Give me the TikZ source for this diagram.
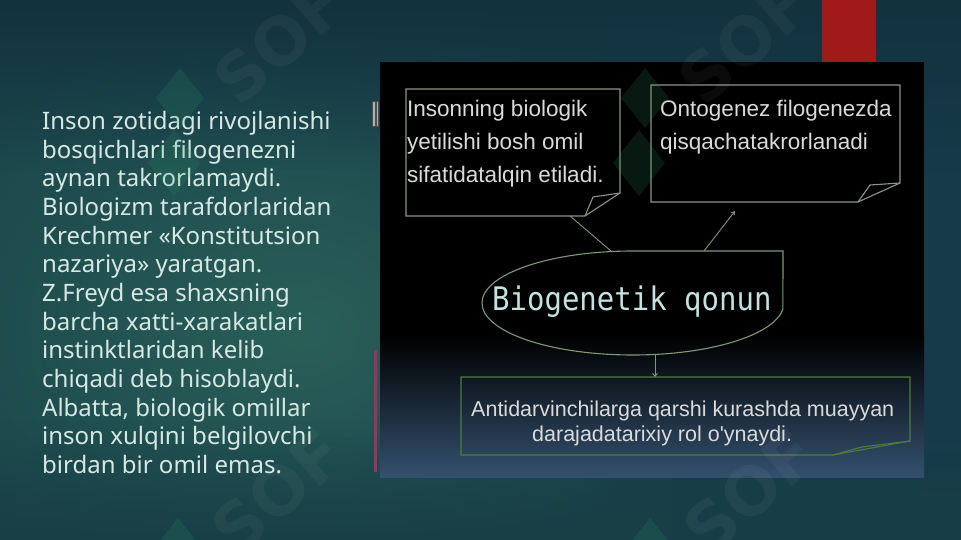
\documentclass[tikz,border=0pt]{standalone}
\usepackage{fontspec}
\setmainfont{Noto Sans}
\newfontfamily\panelfont{Liberation Sans}
\newfontfamily\titlefont{DejaVu Sans Mono}
\newfontfamily\wmfont{DejaVu Sans}
\usetikzlibrary{fadings,arrows.meta}
\definecolor{bgleft}{HTML}{1B464B}
\definecolor{bgright}{HTML}{163A4A}
\definecolor{bgmid}{HTML}{2A5F58}
\definecolor{bgtop}{HTML}{12323E}
\definecolor{bgbot}{HTML}{183F46}
\definecolor{barred}{HTML}{A01A1A}
\definecolor{sidered}{HTML}{A0305E}
\definecolor{panelbot}{HTML}{34506E}
\definecolor{boxgray}{HTML}{8C968A}
\definecolor{ellgreen}{HTML}{7E9A78}
\definecolor{boxgreen}{HTML}{4F7C3E}
\definecolor{paneltext}{HTML}{DADADA}
\definecolor{titletext}{HTML}{C4E2E0}
\definecolor{lefttext}{HTML}{D6E8E4}
\definecolor{wmgreen}{HTML}{2A9A6A}
\tikzfading[name=fadetop, top color=transparent!0, bottom color=transparent!100]
\tikzfading[name=fadebot, top color=transparent!100, bottom color=transparent!0]
\tikzfading[name=softcircle, inner color=transparent!0, outer color=transparent!100]
\tikzset{
  lefttxt/.style={anchor=north west, inner sep=0pt, align=left, text=lefttext,
    font=\fontsize{24}{28.67}\selectfont},
  paneltxt/.style={anchor=base west, inner sep=0pt, text=paneltext,
    font=\panelfont\fontsize{22.5}{27}\selectfont},
  paneltxtb/.style={anchor=base west, inner sep=0pt, text=paneltext,
    font=\panelfont\fontsize{21.5}{26}\selectfont},
  titletxt/.style={anchor=base west, inner sep=0pt, text=titletext,
    font=\titlefont\fontsize{29}{33}\selectfont},
  panelline/.style={line width=1.1pt},
  conn/.style={line width=0.9pt, color=ellgreen},
  wmtxt/.style={font=\wmfont\bfseries\fontsize{66}{66}\selectfont, text=white, opacity=0.045, inner sep=0pt},
  wmlogo/.style={fill=wmgreen, opacity=0.17},
}
\newcommand{\wmunit}[2]{%
  \begin{scope}[shift={(#1,#2)}]
    \fill[wmlogo] (0,0) -- (24,30) -- (0,60) -- (-24,30) -- cycle;
    \fill[wmlogo] (-6,62) -- (20,95) -- (-6,128) -- (-32,95) -- cycle;
    \node[wmtxt, rotate=41] (wm#1) at (100,-26) {SOF};
  \end{scope}}
\begin{document}
\begin{tikzpicture}[x=1pt,y=-1pt]
\useasboundingbox (0,0) rectangle (961,540);
% background
\shade[left color=bgleft, right color=bgright] (0,0) rectangle (961,540);
\fill[bgmid, path fading=softcircle] (300,330) ellipse [x radius=420, y radius=330];
\fill[bgtop, path fading=fadetop] (0,0) rectangle (961,170);
\fill[bgbot, path fading=fadebot] (0,420) rectangle (961,540);
% red bar
\fill[barred] (822,0) rectangle (876,62);
% panel
\fill[black] (380,62) rectangle (924,336);
\shade[top color=black, bottom color=panelbot] (380,335) rectangle (924,477);
% side marks
\fill[sidered] (373.8,350) rectangle (376.6,472);
\draw[black!70, fill=gray!60, line width=0.5pt] (372.5,101) rectangle (374.8,126);
\draw[black!70, fill=gray!60, line width=0.5pt] (376.3,101) rectangle (378.6,126);
% left text
\node[lefttxt] (lefttext) at (42,111) {Inson zotidagi rivojlanishi\\
bosqichlari filogenezni\\
aynan takrorlamaydi.\\
Biologizm tarafdorlaridan\\
Krechmer «Konstitutsion\\
nazariya» yaratgan.\\
Z.Freyd esa shaxsning\\
barcha xatti-xarakatlari\\
instinktlaridan kelib\\
chiqadi deb hisoblaydi.\\
Albatta, biologik omillar\\
inson xulqini belgilovchi\\
birdan bir omil emas.};
% box 1
\draw[boxgray, panelline] (406,216) -- (406,89) -- (620,89) -- (620,193) -- (585,216) -- cycle;
\draw[boxgray, panelline] (585,216) -- (593,197) -- (620,193);
\node[paneltxt] (t1a) at (407,116.7) {Insonning biologik};
\node[paneltxt] (t1b) at (407,150) {yetilishi bosh omil};
\node[paneltxt] (t1c) at (407,183) {sifatidatalqin etiladi.};
% box 2
\draw[boxgray, panelline] (651,202) -- (651,85) -- (900,85) -- (900,183) -- (858,202) -- cycle;
\draw[boxgray, panelline] (858,202) -- (870,185) -- (900,183);
\node[paneltxt] (t2a) at (660,116.7) {Ontogenez filogenezda};
\node[paneltxt] (t2b) at (660,150) {qisqachatakrorlanadi};
% central shape
\draw[ellgreen, panelline] (783,251) -- (633,251)
  arc[start angle=270, end angle=7, x radius=151, y radius=52] -- cycle;
\node[titletxt] (title) at (492,310) {\scalebox{1}[1.12]{Biogenetik qonun}};
% bottom box
\draw[boxgreen, panelline] (461,455) -- (461,377) -- (910,377) -- (910,441) -- (833,455) -- cycle;
\draw[boxgreen, panelline] (833,455) -- (862,447) -- (910,441);
\node[paneltxtb] (t3a) at (471,416.7) {Antidarvinchilarga qarshi kurashda muayyan};
\node[paneltxtb] (t3b) at (532,441.7) {darajadatarixiy rol o'ynaydi.};
% connectors
\coordinate (b1tail) at (570,216);
\coordinate (elltopl) at (611,251);
\coordinate (b2tail) at (735,211);
\coordinate (elltopr) at (704,251);
\coordinate (ellbot) at (655,354);
\coordinate (b3top) at (655,377);
\draw[conn] (elltopl) -- (b1tail);
\draw[conn, -{Straight Barb[length=3pt,width=4pt]}] (elltopr) -- (b2tail);
\draw[conn, -{Straight Barb[length=3pt,width=5pt]}] (ellbot) -- (b3top);
% watermarks
\wmunit{180}{68}
\wmunit{645}{68}
\wmunit{178}{518}
\wmunit{650}{518}
\end{tikzpicture}
\end{document}
